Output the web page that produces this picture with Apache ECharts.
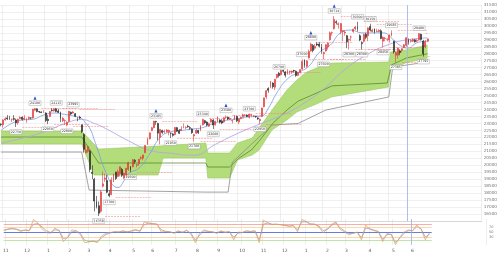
<!DOCTYPE html>
<html><head><meta charset="utf-8">
<script src="https://cdn.jsdelivr.net/npm/echarts@6/dist/echarts.min.js"></script>
<style>html,body{margin:0;padding:0;background:#fff}#c{width:500px;height:253px}</style>
</head><body><div id="c"></div>
<script>
// candles: [open, close, low, high], one bar per two trading days, Oct 2019 - Jun 2021
const candles = [
[22960,22927,22800,23000],[22900,23251,22700,23300],[23250,23330,23200,23450],[23400,23332,23250,23600],[23350,23320,23250,23550],
[23300,23303,23100,23350],[23350,23293,23200,23600],[23250,23038,22750,23350],[23050,23293,22900,23350],[23350,23438,23300,23500],
[23450,23294,23200,23500],[23300,23380,23250,23600],[23200,23300,23050,23400],[23350,23430,23250,23500],[23400,23391,23300,23450],
[23400,24023,23350,24050],[23950,24066,23900,24100],[24050,23864,23800,24080],[23850,23821,23750,23900],[23830,23782,23750,23860],
[23800,23837,23750,23950],[23750,23204,23100,23800],[23300,23204,22950,23600],[23500,23850,23450,23900],[23950,23916,23850,24100],
[23900,24041,23850,24100],[24050,23864,23800,24115],[23900,23795,23750,24050],[23800,23343,23100,23850],[23200,23379,23100,23450],
[23200,23205,22900,23300],[22900,23084,22800,23150],[23150,23873,23100,23900],[23800,23685,23600,23850],[23750,23827,23700,23900],
[23700,23523,23450,23750],[23400,23400,23150,23450],[23450,23386,23300,23550],[22900,22426,22300,22900],[22200,21142,20900,22300],
[20900,21082,20850,21500],[21000,21329,20900,21400],[21000,19698,19500,21100],[19500,19416,19000,20000],[19000,17431,16690,19100],
[17400,17011,16900,17800],[17100,16552,16358,17400],[16700,18092,16600,18200],[18500,18665,18400,19550],[19000,19084,18800,19400],
[18900,18065,18000,19300],[17950,17820,17700,18200],[17900,18950,17850,19150],[18800,19345,18800,19400],[19500,19043,18950,19550],
[19200,19550,19150,19700],[19400,19897,19200,19900],[19700,19280,19150,19800],[19100,19429,19000,19500],[19300,19783,19200,19800],
[19700,20193,19600,20250],[19900,19674,19500,19950],[19900,20390,19850,20450],[20350,20267,20100,20450],[20000,20037,19850,20100],
[20100,20433,19950,20450],[20500,20552,20400,20650],[20500,20741,20350,20750],[20900,21419,20900,21450],[21500,21877,21450,22000],
[21900,22325,21850,22350],[22500,22695,22450,22750],[22700,23178,22650,23180],[23150,23124,22900,23185],[23000,22305,21800,23050],
[22000,22582,21500,22600],[22500,22355,22250,22550],[22400,22437,22300,22550],[22400,22534,22350,22600],[22400,22512,22150,22550],
[22300,22288,21950,22350],[22250,22145,22050,22300],[22200,22714,22150,22750],[22700,22438,22400,22750],[22500,22290,22250,22600],
[22500,22587,22450,22800],[22700,22770,22650,23000],[22700,22717,22600,22800],[22800,22751,22700,22900],[22700,22657,22550,22800],
[22600,22339,22250,22650],[22100,22195,21700,22250],[22300,22514,22250,22600],[22500,22329,22250,22550],[22500,22843,22450,22900],
[22900,23289,22850,23340],[23200,23051,22950,23250],[23100,22880,22800,23150],[22800,22985,22750,23050],[23100,23290,23050,23350],
[23250,22882,22600,23300],[22900,23138,22850,23200],[23150,23465,23100,23500],[23250,23089,23000,23300],[23150,23032,22950,23300],
[23100,23406,23050,23450],[23450,23454,23350,23580],[23450,23319,23250,23500],[23300,23346,23250,23450],[23200,23204,23000,23250],
[23300,23539,23250,23600],[23500,23185,23100,23550],[23100,23312,22950,23350],[23350,23422,23300,23500],[23500,23619,23450,23700],
[23600,23601,23500,23650],[23600,23507,23450,23650],[23450,23671,23350,23700],[23600,23639,23500,23700],[23500,23516,23450,23600],
[23500,23485,23400,23550],[23400,23331,23250,23450],[23200,23295,22950,23350],[23500,24105,23450,24150],[24200,24839,24150,24850],
[24900,25349,24750,25400],[25500,25385,25200,25600],[25600,26014,25550,26050],[25900,25634,25500,25950],[25600,26165,25400,26200],
[26300,26537,26200,26550],[26600,26433,26300,26700],[26500,26800,26450,26850],[26800,26751,26650,26850],[26700,26467,26300,26750],
[26550,26756,26500,26900],[26700,26732,26500,26800],[26700,26757,26550,26800],[26800,26763,26650,26850],[26750,26436,26350,26800],
[26450,26668,26400,26700],[26650,26854,26600,26900],[26900,27444,26850,27600],[27550,27158,27000,27600],[27100,27490,27000,27550],
[27700,28164,27650,28300],[28200,28698,28150,28800],[28600,28242,28100,28700],[28400,28523,28300,28700],[28700,28631,28550,28850],
[28700,28546,28450,28850],[28500,28197,28000,28700],[28000,28091,27600,28150],[28200,28646,28150,28700],[28500,28779,28300,28800],
[29000,29505,28950,29600],[29500,29520,29300,29600],[29800,30467,29750,30714],[30300,30236,30100,30400],[30100,30156,29800,30250],
[29600,30168,29400,30200],[29600,29663,28900,29700],[29500,29559,29300,29700],[29300,28864,28400,29350],[29000,29028,28300,29100],
[29200,29211,28900,29300],[29600,29766,29500,29800],[29800,29914,29700,30000],[29900,29792,29600,30300],[29300,28995,28900,29400],
[28800,28729,28300,28900],[28900,29384,28800,29450],[29400,29178,29050,29500],[29300,29854,28900,29900],[29950,29696,29600,30150],
[29600,29708,29550,29800],[29800,29538,29450,29800],[29600,29620,29550,29800],[29600,29683,29550,29750],[29650,29100,29050,29750],
[28900,29188,28450,29250],[29100,29126,28900,29200],[29050,29053,28900,29100],[29000,29331,28800,29400],[29300,29518,29250,29685],
[28900,28147,28000,28950],[27900,28084,27385,28150],[27900,28406,27650,28450],[28200,28098,27900,28300],[28250,28364,28100,28400],
[28450,28642,28400,28700],[28600,29149,28500,29200],[29000,28814,28650,29100],[28900,28946,28800,29050],[28900,29019,28850,29100],
[29000,28860,28800,29050],[28900,28948,28850,29050],[29000,29441,28950,29480],[29400,29018,28950,29450],[28900,28010,27795,29000],
[28500,28874,28400,29000],[28900,29066,28850,29100]
];
const N = 227; // category slots incl. empty right margin
const monthStartIdx = [1,11,21,31,40,50,61,70,81,91,101,112,122,132,142,152,161,172,183,192];
const monthLabels = ['11','12','1','2','3','4','5','6','7','8','9','10','11','12','1','2','3','4','5','6'];
const priceMin = 16000, priceMax = 31500, priceStep = 500;
const currentIdx = 191.5;

// cloud boundaries [barIndex, price]
const cloudUpper = [[0,22457],[38,22457],[46,21165],[74,21380],[96.5,21596],[97.4,20878],[107.7,20878],[111.4,21596],[118.4,21955],[121.6,22673],[127.7,23966],[134.7,25400],[139.4,26118],[144,26690],[148.7,26977],[155.7,27336],[182.7,27410],[183.6,28126],[190.6,28270],[201,28630]];
const cloudLower = [[0,21520],[38,21520],[43.8,19294],[74,19294],[76.4,20515],[96.5,20515],[97.4,19080],[107.7,19080],[111.4,20370],[118.4,20730],[121.6,21090],[127.7,22525],[134.7,23245],[139.4,23820],[148.7,24390],[155.7,24900],[182.7,25615],[183.6,26835],[190.6,27335],[201,27695]];
const baseLine = [[0,22025],[38,22025],[46,20160],[96.5,20160],[97.4,19873],[107.7,19873],[112,20500],[118,21100],[122,21800],[128,23000],[135,24000],[140,24600],[149,25200],[156,25700],[182,25900],[184,27200],[191,27700],[201,28000]];
const greyLine = [[0,20946],[38,20946],[41.5,18217],[96.5,18074],[107,18074],[109,20227],[127.7,22884],[140,23000],[153,23960],[182.7,24900],[184.6,27050],[201,27410]];
const maMid = [[0,22500],[5,23000],[10,23250],[15,23300],[20,23600],[25,23750],[30,23650],[35,23500],[38,23350],[40,23000],[42,22600],[44,21800],[46,20900],[48,20000],[50,19300],[52,18700],[55,18400],[58,18900],[60,19400],[65,19800],[70,20800],[75,22000],[80,22400],[85,22500],[90,22600],[95,22700],[100,23000],[105,23200],[110,23300],[115,23450],[120,23500],[123,23550],[126,24100],[130,25200],[135,26200],[140,26650],[145,27100],[150,28100],[155,28600],[160,29500],[165,29700],[170,29500],[175,29500],[180,29500],[185,29000],[188,28600],[192,28400],[196,28800],[201,28900]];
const maLong = [[0,21600],[10,21940],[20,22380],[30,22980],[38,23280],[44,23000],[50,22580],[60,21760],[70,21080],[80,20860],[91,20720],[101,21500],[112,22320],[122,22960],[132,23560],[142,24380],[152,25460],[161,26740],[172,27900],[183,28680],[192,29020],[201,29140]];

// oscillator, one value every 2 bars
const oscFast = [55,62,65,60,52,58,55,98,85,62,48,45,65,55,13,30,58,55,40,9,12,15,10,35,45,48,52,50,55,50,55,60,52,89,85,82,80,50,52,50,45,55,48,58,40,9,45,58,52,50,45,55,48,52,20,50,48,55,52,55,9,95,85,78,80,78,75,72,75,51,98,90,78,80,70,47,62,80,89,60,51,39,45,50,20,77,60,55,50,13,45,40,1,30,50,58,55,77,60,20,47];
const oscSlow = [57,60,62,61,56,57,56,80,82,70,55,48,58,57,25,28,50,54,45,18,14,14,12,28,40,46,50,50,53,51,53,57,54,78,84,82,80,58,53,51,47,52,50,55,45,18,38,54,53,51,47,52,50,51,30,45,48,53,52,54,20,80,85,80,80,78,76,73,74,58,88,90,82,80,73,55,60,75,85,66,55,44,45,49,28,65,62,57,52,22,40,41,10,25,45,55,55,70,63,30,42];
const oscLevels = [80,70,50,30,20];
const oscLevelColors = ['#f28a8a','#f3c98a','#5f7fe6','#f3c98a','#a6d98a'];

// high / low annotations
const highIdx = [16,26,34,73,95,106,117,131,142,146,157,168,174,184,197];
const highVal = [24100,24115,23995,23185,23340,23580,23700,26700,27600,28800,30714,30300,30150,29685,29480];
const lowIdx = [7,22,31,46,51,61,80,91,100,122,152,164,170,180,186,199];
const lowVal = [22750,22950,22800,16358,17700,19500,21950,21700,22600,22950,27600,28300,28300,28450,27385,27795];
const triIdx = [16,73,106,146,157];

const cats = Array.from({length:N}, (_, i) => String(i));
const isMonth = i => monthStartIdx.indexOf(i) >= 0;

const markPts = [];
highIdx.forEach((i,k)=>markPts.push({coord:[i,highVal[k]], value:highVal[k], symbolOffset:[0,-5]}));
lowIdx.forEach((i,k)=>markPts.push({coord:[i,lowVal[k]], value:lowVal[k], symbolOffset:[0,5]}));
triIdx.forEach(i=>{const k=highIdx.indexOf(i); markPts.push({coord:[i,highVal[k]], value:'', symbol:'triangle', symbolSize:[3,3.5], symbolOffset:[0,-10], itemStyle:{color:'#3050c8',borderWidth:0}, label:{show:false}});});
const dashLines = [];
highIdx.forEach((i,k)=>dashLines.push([{coord:[i+3,highVal[k]]},{coord:[Math.min(i+20,201),highVal[k]]}]));
lowIdx.forEach((i,k)=>dashLines.push([{coord:[i+3,lowVal[k]]},{coord:[Math.min(i+20,201),lowVal[k]]}]));
dashLines.push({xAxis:currentIdx, lineStyle:{color:'#a3b0ea', type:'solid', width:0.8}});

const chart = echarts.init(document.getElementById('c'), null, {renderer:'canvas'});
const gridLine = {show:true, interval:(i)=>isMonth(i), lineStyle:{color:'#e3e3e3', width:0.6}};
chart.setOption({
  animation:false,
  backgroundColor:'#fff',
  grid:[
    {left:0, right:14, top:5, height:216},
    {left:0, right:14, top:219, height:26.2}
  ],
  xAxis:[
    {type:'category', gridIndex:0, data:cats, boundaryGap:true, axisLine:{show:true, lineStyle:{color:'#c8c8c8', width:0.6}}, axisTick:{show:false}, axisLabel:{show:false}, splitLine:gridLine},
    {type:'value', gridIndex:0, min:-0.5, max:N-0.5, show:false},
    {type:'category', gridIndex:1, data:cats, boundaryGap:true, axisLine:{show:false}, axisTick:{show:false},
      axisLabel:{show:true, interval:(i)=>isMonth(i), formatter:(v,i)=>{const k=monthStartIdx.indexOf(Number(v)); return k>=0?monthLabels[k]:'';}, fontSize:4.5, color:'#555', margin:3, fontFamily:'DejaVu Sans'},
      splitLine:gridLine},
    {type:'value', gridIndex:1, min:-0.5, max:N-0.5, show:false}
  ],
  yAxis:[
    {type:'value', gridIndex:0, position:'right', min:priceMin, max:priceMax, interval:priceStep,
      axisLine:{show:false}, axisTick:{show:false},
      axisLabel:{fontSize:4.2, color:'#777', margin:2, showMinLabel:false, fontFamily:'DejaVu Sans', formatter:v=>String(v)},
      splitLine:{lineStyle:{color:'#e6e6e6', width:0.6}}},
    {type:'value', gridIndex:1, position:'right', min:0, max:100,
      axisLine:{show:false}, axisTick:{show:false}, splitLine:{show:false},
      axisLabel:{customValues:oscLevels, fontSize:3.5, color:'#777', margin:3, fontFamily:'DejaVu Sans', formatter:v=>String(v)}}
  ],
  series:[
    {type:'custom', xAxisIndex:1, yAxisIndex:0, silent:true, z:1, data:[[0,20000]],
      renderItem:(params, api)=>{
        const pts = cloudUpper.map(d=>api.coord(d)).concat(cloudLower.slice().reverse().map(d=>api.coord(d)));
        return {type:'polygon', shape:{points:pts}, style:{fill:'#b3dc7a'}};
      }},
    {type:'line', xAxisIndex:1, yAxisIndex:0, data:cloudUpper, showSymbol:false, lineStyle:{color:'#93c45a', width:0.5}, z:2, silent:true},
    {type:'line', xAxisIndex:1, yAxisIndex:0, data:cloudLower, showSymbol:false, lineStyle:{color:'#93c45a', width:0.5}, z:2, silent:true},
    {type:'line', xAxisIndex:1, yAxisIndex:0, data:baseLine, showSymbol:false, lineStyle:{color:'#4f7f22', width:0.7}, z:3, silent:true},
    {type:'line', xAxisIndex:1, yAxisIndex:0, data:greyLine, showSymbol:false, lineStyle:{color:'#8c8c8c', width:0.8}, z:3, silent:true},
    {type:'line', xAxisIndex:1, yAxisIndex:0, data:maLong, showSymbol:false, smooth:true, lineStyle:{color:'#b5a6e2', width:0.9}, z:3, silent:true},
    {type:'line', xAxisIndex:1, yAxisIndex:0, data:maMid, showSymbol:false, smooth:true, lineStyle:{color:'#7a9ae0', width:0.8}, z:3, silent:true},
    {type:'candlestick', xAxisIndex:0, yAxisIndex:0, data:candles, barWidth:1.4, z:5,
      itemStyle:{color:'#e23b3b', color0:'#262626', borderColor:'#e23b3b', borderColor0:'#262626', borderWidth:0.6}},
    {type:'line', xAxisIndex:1, yAxisIndex:0, data:[], showSymbol:false, z:6, silent:true,
      markLine:{silent:true, symbol:['none','none'], label:{show:false}, lineStyle:{color:'#f07a7a', type:'dashed', width:0.5}, data:dashLines},
      markPoint:{silent:true, symbol:'rect', symbolSize:[12,4.6], itemStyle:{color:'#fff', borderColor:'#9a9a9a', borderWidth:0.4},
        label:{show:true, fontSize:3.2, color:'#333', fontFamily:'DejaVu Sans', formatter:p=>String(p.value)}, data:markPts}},
    {type:'line', xAxisIndex:3, yAxisIndex:1, data:oscSlow.map((v,k)=>[k*2,v]), showSymbol:false, lineStyle:{color:'#8b98b4', width:0.7}, z:4, silent:true,
      markLine:{silent:true, symbol:['none','none'], label:{show:false},
        data:oscLevels.map((v,k)=>[{coord:[0,v], lineStyle:{color:oscLevelColors[k], width:k===2?1:0.7, type:'solid'}},{coord:[201,v]}]).concat([{xAxis:currentIdx, lineStyle:{color:'#a3b0ea', type:'solid', width:0.8}}])}},
    {type:'line', xAxisIndex:3, yAxisIndex:1, data:oscFast.map((v,k)=>[k*2,v]), showSymbol:false, lineStyle:{color:'#e59a5c', width:0.7}, z:5, silent:true}
  ]
});
</script></body></html>
